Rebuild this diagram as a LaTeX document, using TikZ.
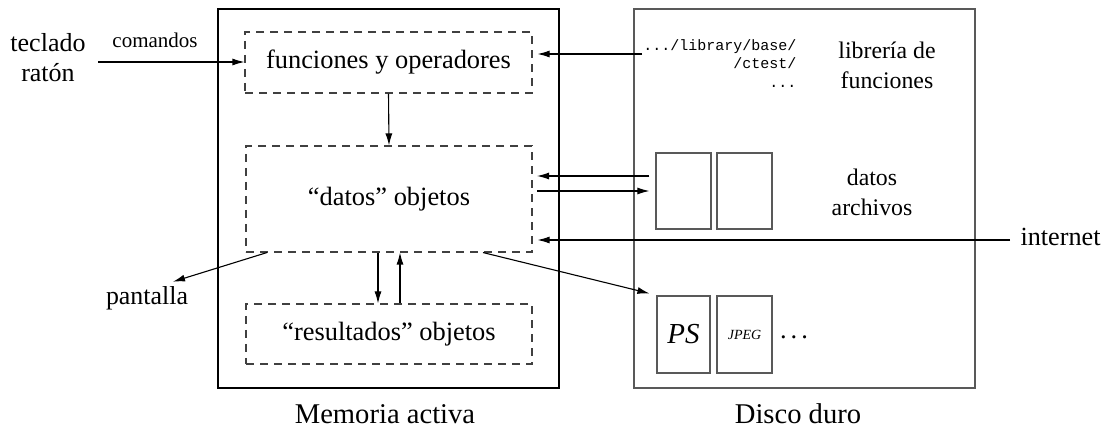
\documentclass[tikz,border=0pt]{standalone}
\usepackage{fontspec}
\setmainfont{Liberation Serif}
\setmonofont{Liberation Mono}
\usetikzlibrary{arrows.meta}
\begin{document}
\begin{tikzpicture}[x=1pt,y=-1pt,
  line width=1.1pt,
  arr/.style={-{Latex[length=12pt,width=7pt]}},
  membox/.style={draw=black,line width=1.2pt},
  diskbox/.style={draw=black!65,line width=1.3pt},
  dbox/.style={draw=black!75,line width=1.1pt,dash pattern=on 8pt off 6pt},
  filebox/.style={draw=black!65,line width=1.2pt},
  txt/.style={inner sep=0pt,align=center,font=\fontsize{26.4}{30}\selectfont},
  captxt/.style={inner sep=0pt,font=\fontsize{28.6}{32}\selectfont},
  sm/.style={inner sep=0pt,align=center,font=\fontsize{23.8}{30}\selectfont},
]
\useasboundingbox (0,0) rectangle (1104,430);

% main containers
\path[membox] (218,9) rectangle (559,388);
\path[diskbox] (634,9) rectangle (975,388);
\node[captxt] (memcap) at (385,414) {Memoria activa};
\node[captxt] (diskcap) at (798,414) {Disco duro};

% dashed boxes
\node[dbox,minimum width=287pt,minimum height=61pt,txt] (fun) at (388.5,62.5) {funciones y operadores};
\node[dbox,minimum width=286pt,minimum height=106pt,txt] (datos) at (389,199) {“datos” objetos};
\node[dbox,minimum width=286pt,minimum height=60pt,txt] (res) at (389,334) {“resultados” objetos};

% file boxes
\node[filebox,minimum width=55pt,minimum height=76pt,inner sep=0pt] (f1) at (683.5,191) {};
\node[filebox,minimum width=55pt,minimum height=76pt,inner sep=0pt] (f2) at (744.5,191) {};
\node[filebox,minimum width=53pt,minimum height=77pt,inner sep=0pt,font=\fontsize{29}{30}\selectfont\itshape] (ps) at (683.5,334.5) {PS};
\node[filebox,minimum width=55pt,minimum height=77pt,inner sep=0pt,font=\fontsize{14}{16}\selectfont\itshape] (jpeg) at (744.5,334.5) {JPEG};
\node[txt] (dots) at (794,337) {.\hspace{4pt}.\hspace{4pt}.};

% texts
\node[txt,font=\fontsize{26}{30}\selectfont] (kbd) at (48,58) {teclado\\ratón};
\node[inner sep=0pt,font=\fontsize{21}{24}\selectfont] (cmd) at (155,40) {comandos};
\node[inner sep=0pt,align=right,font=\fontsize{15}{18.5}\ttfamily,anchor=north east] (lib) at (797,39) {.../library/base/\\/ctest/\\...};
\node[sm] (libtxt) at (887,65) {librería de\\funciones};
\node[sm] (dattxt) at (872,192) {datos\\archivos};
\node[inner sep=0pt,font=\fontsize{26.2}{30}\selectfont,anchor=west] (inet) at (1020,237) {internet};
\node[inner sep=0pt,font=\fontsize{25.9}{30}\selectfont] (pant) at (147,298) {pantalla};

% coordinates for free ends
\coordinate (kin) at (98,62);
\coordinate (lout) at (642,54);
\coordinate (inl) at (1010,240);
\coordinate (dA) at (537,176);
\coordinate (dB) at (537,191);

% connectors
\draw[arr] (kin) -- (kin -| fun.west);
\draw[arr,shorten >=5pt] (lout) -- (lout -| fun.east);
\draw[arr] (fun.south) -- (datos.north);
\draw[arr] (f1.west |- dA) ++(-6,0) -- (dA);
\draw[arr,shorten >=6pt] (dB) -- (dB -| f1.west);
\draw[arr,shorten >=5pt] (inl) -- (inl -| datos.east);
\draw[arr] ([xshift=-11pt]datos.south) -- ([xshift=-11pt]res.north);
\draw[arr] ([xshift=11pt]res.north) -- ([xshift=11pt]datos.south);
\draw[arr] ([xshift=-122pt]datos.south) -- ([xshift=26pt,yshift=4pt]pant.north);
\draw[arr] ([xshift=94pt]datos.south) -- ([xshift=-7pt,yshift=2pt]ps.north west);
\end{tikzpicture}
\end{document}
